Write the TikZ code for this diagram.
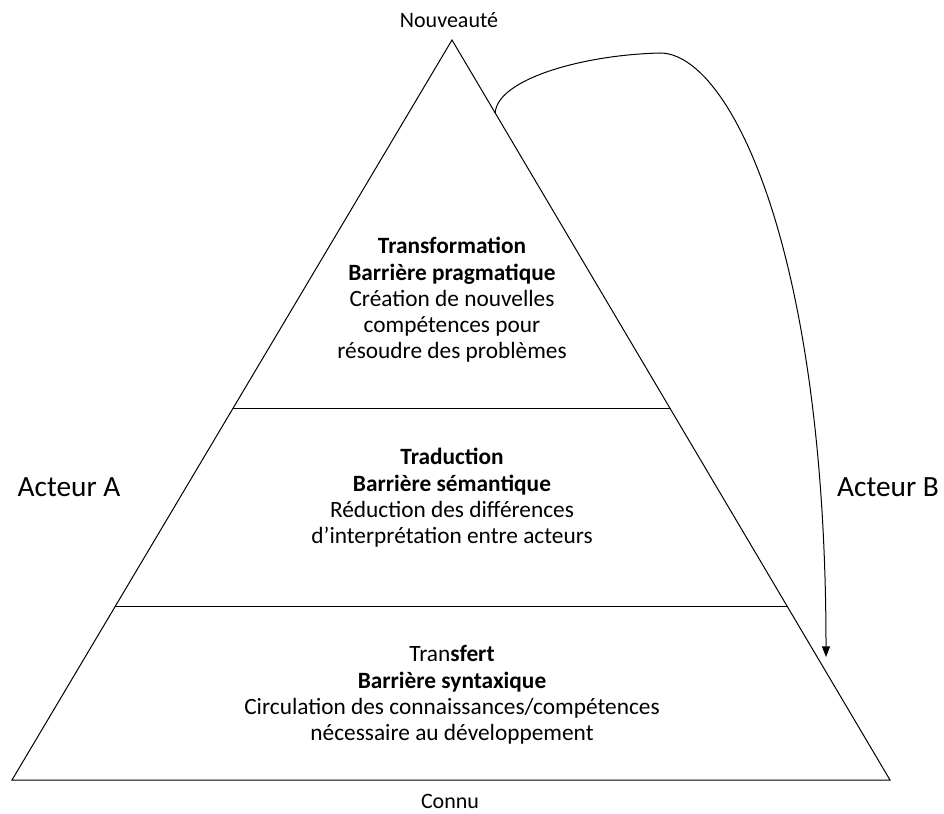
\documentclass[tikz,border=0pt]{standalone}
\usepackage{fontspec}
\setmainfont{Carlito}
\usetikzlibrary{positioning,calc,arrows.meta}

\begin{document}
\begin{tikzpicture}[x=0.75pt,y=-0.75pt,line width=0.75pt,
		layer/.style={align=center, font=\fontsize{17.5}{19.7}\selectfont},
		actor/.style={font=\fontsize{22}{26}\selectfont},
		pole/.style={font=\fontsize{16.5}{19}\selectfont}]
		
		\useasboundingbox (0,0) rectangle (944,813);
		
		% pyramid
		\coordinate (apex) at (452,40);
		\coordinate (bl) at (12,780);
		\coordinate (br) at (890,780);
		\draw (apex) -- (bl) -- (br) -- cycle;
		\coordinate (l1) at ($(apex)!0.4973!(bl)$);
		\coordinate (r1) at ($(apex)!0.4973!(br)$);
		\coordinate (l2) at ($(apex)!0.7649!(bl)$);
		\coordinate (r2) at ($(apex)!0.7649!(br)$);
		\draw (l1) -- (r1);
		\draw (l2) -- (r2);
		
		% texts
		\node[pole] (new) at (449,20) {Nouveauté};
		\node[pole] (known) at (450,801) {Connu};
		\node[actor] (actA) at (69,487) {Acteur A};
		\node[actor] (actB) at (888,487) {Acteur B};
		
		\node[layer] (transfo) at (452,300) {\textbf{Transformation}\\ \textbf{Barrière pragmatique}\\ Création de nouvelles\\ compétences pour\\ résoudre des problèmes};
		\node[layer] (trad) at (452,498) {\textbf{Traduction}\\ \textbf{Barrière sémantique}\\ Réduction des différences\\ d’interprétation entre acteurs};
		\node[layer] (transf) at (452,695) {Tran\textbf{sfert}\\ \textbf{Barrière syntaxique}\\ Circulation des connaissances/compétences\\ nécessaire au développement};
		
		% loop back arrow
		\coordinate (src) at ($(apex)!0.0986!(br)$);
		\coordinate (top) at (660,53);
		\coordinate (dst) at (826,657);
		\draw[-{Triangle[length=8pt,width=6pt]}] (src) .. controls (497,80) and (580,55) .. (top) .. controls (730,53) and (826,250) .. (dst);
	\end{tikzpicture}
\end{document}
